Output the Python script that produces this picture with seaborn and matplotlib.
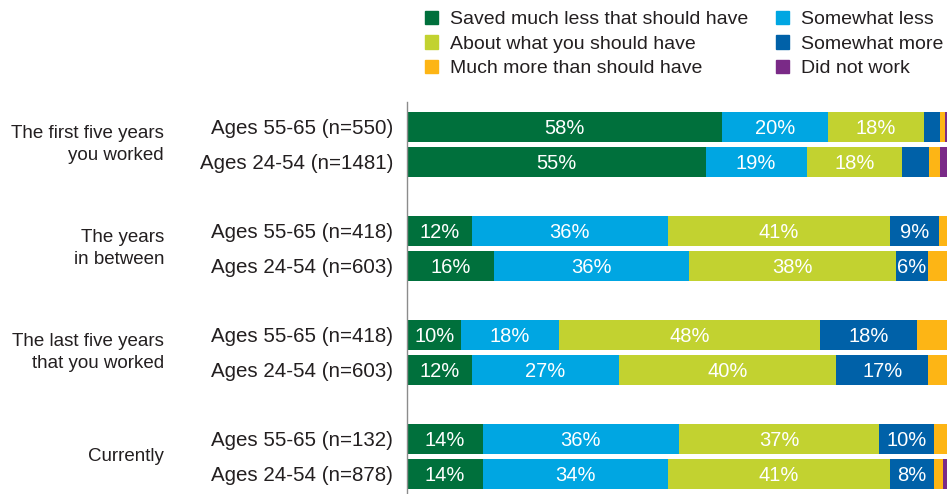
"""Stacked horizontal bars: how much people saved at different life stages."""

import numpy as np
import seaborn as sns
import matplotlib.pyplot as plt
import matplotlib.transforms as mtransforms
from matplotlib.patches import Patch

# ---- data -------------------------------------------------------------------
groups = ["The first five years\nyou worked",
          "The years\nin between",
          "The last five years\nthat you worked",
          "Currently"]
rows = ["Ages 55-65 (n=550)", "Ages 24-54 (n=1481)",
        "Ages 55-65 (n=418)", "Ages 24-54 (n=603)",
        "Ages 55-65 (n=418)", "Ages 24-54 (n=603)",
        "Ages 55-65 (n=132)", "Ages 24-54 (n=878)"]
categories = ["Saved much less that should have", "Somewhat less",
              "About what you should have", "Somewhat more",
              "Much more than should have", "Did not work"]
much_less = [58, 55, 12, 16, 10, 12, 14, 14]
somewhat_less = [19.6, 18.6, 36, 36, 18, 27, 36, 34]
about_right = [17.6, 17.6, 41, 38, 48, 40, 37, 41]
somewhat_more = [3.0, 5.0, 9, 6, 18, 17, 10, 8]
much_more = [0.8, 2.0, 2, 4, 6, 4, 3, 1.8]
did_not_work = [1.0, 1.8, 0, 0, 0, 0, 0, 1.2]

colors = ["#00703c", "#00a6e2", "#c2d230", "#0061a8", "#fdb515", "#7a2a87"]
text_color = "#231f20"

# ---- figure -----------------------------------------------------------------
sns.set_style("white")
plt.rcParams["font.family"] = ["Liberation Sans", "DejaVu Sans"]

fig = plt.figure(figsize=(9.47, 4.94), dpi=100)
ax = fig.add_axes([407 / 947, 0, 543 / 947, 392 / 494])

series = np.array([much_less, somewhat_less, about_right,
                   somewhat_more, much_more, did_not_work], dtype=float)
cum = series.cumsum(axis=0)
# two bars per group, one empty row between groups
pos = np.array([3 * (i // 2) + (i % 2) for i in range(len(rows))], dtype=float)

# draw cumulative totals from the back so the segments stack up
for k in range(len(categories) - 1, -1, -1):
    sns.barplot(x=cum[k], y=pos, orient="y", native_scale=True,
                color=colors[k], saturation=1, width=0.865,
                errorbar=None, linewidth=0, ax=ax)

# percentage labels inside the first four segments
for k in range(4):
    for i in range(len(rows)):
        v = series[k, i]
        if v >= 6:
            ax.text(cum[k, i] - v / 2, pos[i], f"{v:.0f}%",
                    ha="center", va="center_baseline", color="white",
                    fontsize=14.5)

ax.set_xlim(0, 100)
ax.set_ylim(10.59, -0.72)
ax.set_xlabel("")
ax.set_ylabel("")
ax.set_xticks([])
ax.set_yticks(pos)
ax.set_yticklabels(rows, fontsize=14.8, color=text_color)
ax.tick_params(axis="y", length=0, pad=10)
for side in ["top", "right", "bottom"]:
    ax.spines[side].set_visible(False)
ax.spines["left"].set_color("#8c8c8c")
ax.spines["left"].set_linewidth(1)

# group labels on the far left
trans = mtransforms.blended_transform_factory(fig.transFigure, ax.transData)
for g, name in enumerate(groups):
    ax.text(164 / 947, 3 * g + 0.5, name, transform=trans, ha="right",
            va="center", fontsize=13.5, color=text_color, linespacing=1.42)

# legend on top, two columns
handles = [Patch(color=colors[k]) for k in [0, 2, 4, 1, 3, 5]]
labels = [categories[k] for k in [0, 2, 4, 1, 3, 5]]
fig.legend(handles, labels, ncol=2, loc="upper left",
           bbox_to_anchor=(425 / 947, 0.978), frameon=False,
           fontsize=14, labelcolor=text_color,
           handlelength=0.67, handleheight=0.67, handletextpad=0.62,
           columnspacing=1.4, labelspacing=0.36,
           borderpad=0, borderaxespad=0)

fig.savefig("out.png", dpi=100)
